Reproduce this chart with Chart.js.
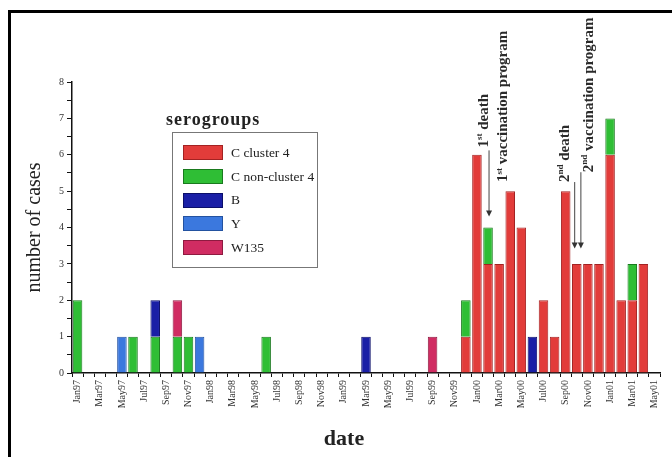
<!DOCTYPE html>
<html>
<head>
<meta charset="utf-8">
<script src="https://cdn.jsdelivr.net/npm/chart.js@4"></script>
<style>
  html, body { margin: 0; padding: 0; background: #fff; }
  #wrap { position: relative; width: 672px; height: 457px; overflow: hidden; }
  #frame { position: absolute; left: 8px; top: 10px; width: 700px; height: 500px;
    border-left: 3px solid #000; border-top: 3px solid #000; }
  #chart { position: absolute; left: 0; top: 0; }
  #legend-title { position: absolute; left: 166px; top: 109px; letter-spacing: 1px;
    font: bold 18px "Liberation Serif", serif; color: #222; }
  #legend { position: absolute; left: 172px; top: 132px; width: 146px; height: 136px;
    box-sizing: border-box; border: 1.5px solid #777; padding-top: 8px;
    font: 13.5px "Liberation Serif", serif; color: #222; white-space: nowrap; }
  .row { display: flex; align-items: center; height: 23.7px; margin-left: 10px; }
  .sw { width: 40px; height: 15px; margin-right: 8px; box-sizing: border-box; border: 1px solid; flex: none; }
</style>
</head>
<body>
<div id="wrap">
  <div id="frame"></div>
  <canvas id="chart" width="672" height="457"></canvas>
  <div id="legend-title">serogroups</div>
  <div id="legend"></div>
</div>
<script>
// monthly categories, Jan 1997 to May 2001
const months = [
  "Jan97", "Feb97", "Mar97", "Apr97", "May97", "Jun97", "Jul97", "Aug97", "Sep97", "Oct97", "Nov97", "Dec97",
  "Jan98", "Feb98", "Mar98", "Apr98", "May98", "Jun98", "Jul98", "Aug98", "Sep98", "Oct98", "Nov98", "Dec98",
  "Jan99", "Feb99", "Mar99", "Apr99", "May99", "Jun99", "Jul99", "Aug99", "Sep99", "Oct99", "Nov99", "Dec99",
  "Jan00", "Feb00", "Mar00", "Apr00", "May00", "Jun00", "Jul00", "Aug00", "Sep00", "Oct00", "Nov00", "Dec00",
  "Jan01", "Feb01", "Mar01", "Apr01", "May01"
];

// cases per month for each serogroup (one row per year)
const cCluster4 = [
  0, 0, 0, 0, 0, 0, 0, 0, 0, 0, 0, 0,
  0, 0, 0, 0, 0, 0, 0, 0, 0, 0, 0, 0,
  0, 0, 0, 0, 0, 0, 0, 0, 0, 0, 0, 1,
  6, 3, 3, 5, 4, 0, 2, 1, 5, 3, 3, 3,
  6, 2, 2, 3, 0
];
const cNonCluster4 = [
  2, 0, 0, 0, 0, 1, 0, 1, 0, 1, 1, 0,
  0, 0, 0, 0, 0, 1, 0, 0, 0, 0, 0, 0,
  0, 0, 0, 0, 0, 0, 0, 0, 0, 0, 0, 1,
  0, 1, 0, 0, 0, 0, 0, 0, 0, 0, 0, 0,
  1, 0, 1, 0, 0
];
const groupB = [
  0, 0, 0, 0, 0, 0, 0, 1, 0, 0, 0, 0,
  0, 0, 0, 0, 0, 0, 0, 0, 0, 0, 0, 0,
  0, 0, 1, 0, 0, 0, 0, 0, 0, 0, 0, 0,
  0, 0, 0, 0, 0, 1, 0, 0, 0, 0, 0, 0,
  0, 0, 0, 0, 0
];
const groupY = [
  0, 0, 0, 0, 1, 0, 0, 0, 0, 0, 0, 1,
  0, 0, 0, 0, 0, 0, 0, 0, 0, 0, 0, 0,
  0, 0, 0, 0, 0, 0, 0, 0, 0, 0, 0, 0,
  0, 0, 0, 0, 0, 0, 0, 0, 0, 0, 0, 0,
  0, 0, 0, 0, 0
];
const groupW135 = [
  0, 0, 0, 0, 0, 0, 0, 0, 0, 1, 0, 0,
  0, 0, 0, 0, 0, 0, 0, 0, 0, 0, 0, 0,
  0, 0, 0, 0, 0, 0, 0, 0, 1, 0, 0, 0,
  0, 0, 0, 0, 0, 0, 0, 0, 0, 0, 0, 0,
  0, 0, 0, 0, 0
];

const groupNames = ["C cluster 4", "C non-cluster 4", "B", "Y", "W135"];
const groupValues = [cCluster4, cNonCluster4, groupB, groupY, groupW135];
const fills = ["#e23c3a", "#2fbe35", "#1a1fa6", "#3b78de", "#d02c62"];
const edges = ["#a32222", "#197a1e", "#0b0f6a", "#2352a0", "#8e1a40"];

// events marked over the bars
const events = [
  { month: "Feb00", num: "1", sup: "st", text: " death", dx: -4, from: 6.2,
    arrow: { dx: 1, from: 6.12, to: 4.3 } },
  { month: "Apr00", num: "1", sup: "st", text: " vaccination program", dx: -7, from: 5.25 },
  { month: "Sep00", num: "2", sup: "nd", text: " death", dx: -1, from: 5.25,
    arrow: { dx: 9, from: 5.25, to: 3.42 } },
  { month: "Nov00", num: "2", sup: "nd", text: " vaccination program", dx: 1, from: 5.52,
    arrow: { dx: -7, from: 5.52, to: 3.42 } }
];

const serif = "'Liberation Serif', 'Times New Roman', serif";

const eventLabels = {
  id: "eventLabels",
  afterDatasetsDraw(chart) {
    const { ctx, scales: { x, y } } = chart;
    ctx.save();
    events.forEach((ev) => {
      const cx = x.getPixelForValue(months.indexOf(ev.month));
      // vertical text, reading bottom to top
      ctx.save();
      ctx.translate(cx + ev.dx, y.getPixelForValue(ev.from));
      ctx.rotate(-Math.PI / 2);
      ctx.fillStyle = "#2a2a2a";
      ctx.textAlign = "left";
      ctx.textBaseline = "middle";
      ctx.font = "bold 15px " + serif;
      ctx.fillText(ev.num, 0, 0);
      let pos = ctx.measureText(ev.num).width;
      ctx.font = "bold 9px " + serif;
      ctx.fillText(ev.sup, pos, -4);
      pos += ctx.measureText(ev.sup).width;
      ctx.font = "bold 15px " + serif;
      ctx.fillText(ev.text, pos, 0);
      ctx.restore();

      if (ev.arrow) {
        const ax = cx + ev.arrow.dx;
        const y1 = y.getPixelForValue(ev.arrow.from);
        const y2 = y.getPixelForValue(ev.arrow.to);
        ctx.strokeStyle = "#444";
        ctx.fillStyle = "#333";
        ctx.lineWidth = 1;
        ctx.beginPath();
        ctx.moveTo(ax, y1);
        ctx.lineTo(ax, y2 - 4);
        ctx.stroke();
        ctx.beginPath();
        ctx.moveTo(ax - 3, y2 - 6);
        ctx.lineTo(ax + 3, y2 - 6);
        ctx.lineTo(ax, y2);
        ctx.closePath();
        ctx.fill();
      }
    });
    ctx.restore();
  }
};

const chart = new Chart(document.getElementById("chart"), {
  type: "bar",
  data: {
    labels: months,
    datasets: groupNames.map((name, i) => ({
      label: name,
      data: groupValues[i],
      backgroundColor: fills[i],
      borderColor: edges[i],
      borderWidth: 1,
      barPercentage: 0.86,
      categoryPercentage: 1
    }))
  },
  options: {
    responsive: false,
    animation: false,
    devicePixelRatio: 1,
    layout: { padding: { top: 82, right: 12, left: 0, bottom: 0 } },
    plugins: {
      legend: { display: false },
      tooltip: { enabled: false }
    },
    scales: {
      x: {
        stacked: true,
        grid: { drawOnChartArea: false, tickLength: 4, color: "#111" },
        border: { color: "#111", width: 1.5 },
        ticks: {
          autoSkip: false,
          minRotation: 90,
          maxRotation: 90,
          padding: 3,
          color: "#333",
          font: { family: serif, size: 10 },
          callback: (v, i) => (i % 2 === 0 ? months[i] : "")
        },
        title: {
          display: true,
          text: "date\u2002\u2002\u2002\u2002",
          color: "#222",
          font: { family: serif, size: 22, weight: "bold" },
          padding: { top: 0, bottom: 4 }
        },
        afterFit: (s) => { s.height = 84; }
      },
      y: {
        stacked: true,
        min: 0,
        max: 8,
        grid: { drawOnChartArea: false, tickLength: 5, color: "#111" },
        border: { color: "#111", width: 1.5 },
        ticks: {
          stepSize: 0.5,
          padding: 3,
          color: "#333",
          font: { family: serif, size: 10 },
          callback: (v) => (Number.isInteger(v) ? v : "")
        },
        title: {
          display: true,
          text: "number of cases",
          color: "#222",
          font: { family: serif, size: 20 },
          padding: { top: 23, bottom: 0 }
        },
        afterFit: (s) => { s.width = 72; }
      }
    }
  },
  plugins: [eventLabels]
});

// boxed legend built from the datasets
const legend = document.getElementById("legend");
chart.data.datasets.forEach((ds) => {
  const row = document.createElement("div");
  row.className = "row";
  const sw = document.createElement("span");
  sw.className = "sw";
  sw.style.background = ds.backgroundColor;
  sw.style.borderColor = ds.borderColor;
  const label = document.createElement("span");
  label.textContent = ds.label;
  row.appendChild(sw);
  row.appendChild(label);
  legend.appendChild(row);
});
</script>
</body>
</html>
